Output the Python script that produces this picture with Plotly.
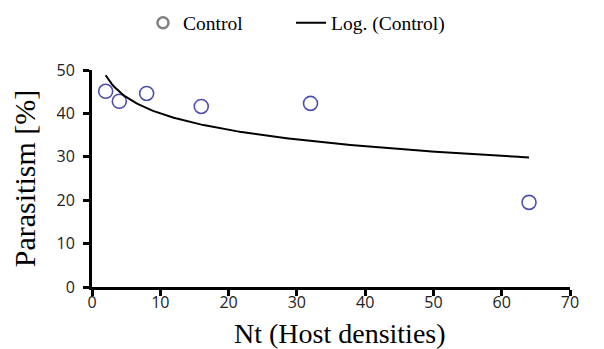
import numpy as np
import plotly.graph_objects as go

nt = [2, 4, 8, 16, 32, 64]
parasitism = [45.1, 42.8, 44.6, 41.6, 42.3, 19.5]
x_ticks = [0, 10, 20, 30, 40, 50, 60, 70]
y_ticks = [0, 10, 20, 30, 40, 50]

# logarithmic trendline fitted to the data (like Excel's "Log." trendline)
b, a = np.polyfit(np.log(nt), parasitism, 1)
xf = np.linspace(min(nt), max(nt), 200)
yf = a + b * np.log(xf)

W, H = 596, 341
leg_font = dict(family="Liberation Serif", size=19.5, color="black")

fig = go.Figure()
fig.add_trace(go.Scatter(x=nt, y=parasitism, mode="markers", showlegend=False, cliponaxis=False,
                         marker=dict(symbol="circle-open", size=14, color="#4e4eb0",
                                     line=dict(width=1.6, color="#4e4eb0"))))
fig.add_trace(go.Scatter(x=[None], y=[None], mode="markers", name="Control", legend="legend",
                         marker=dict(symbol="circle-open", size=11, color="#808080",
                                     line=dict(width=2.5, color="#808080"))))
fig.add_trace(go.Scatter(x=xf, y=yf, mode="lines", name="Log. (Control)", legend="legend2",
                         line=dict(color="black", width=2)))

fig.update_layout(
    width=W, height=H, plot_bgcolor="white", paper_bgcolor="white",
    margin=dict(l=84, r=34, t=62, b=62, autoexpand=False),
    legend=dict(orientation="h", xref="container", yref="container",
                x=135 / W, xanchor="left", y=1 - 15 / H, yanchor="middle", font=leg_font),
    legend2=dict(orientation="h", xref="container", yref="container",
                 x=283 / W, xanchor="left", y=1 - 15 / H, yanchor="middle", font=leg_font),
    xaxis=dict(range=[0, 70], tickvals=x_ticks, showline=True, linewidth=3, linecolor="black",
               ticks="outside", ticklen=6, tickwidth=3, tickcolor="black", showgrid=False, zeroline=False,
               automargin=False, ticklabelstandoff=-7,
               tickfont=dict(family="Open Sans", size=16, color="#222")),
    yaxis=dict(range=[0, 50], tickvals=y_ticks, showline=True, linewidth=3, linecolor="black",
               ticks="outside", ticklen=6, tickwidth=3, tickcolor="black", showgrid=False, zeroline=False,
               automargin=False, ticklabelstandoff=5,
               tickfont=dict(family="Open Sans", size=16, color="#222"),
               title=dict(text="Parasitism [%]", font=dict(family="Liberation Serif", size=30, color="black"),
                          standoff=14)),
    annotations=[dict(text="Nt (Host densities)", xref="paper", yref="paper", x=0.5, y=0,
                      xanchor="center", yanchor="middle", yshift=-46, xshift=9, showarrow=False,
                      font=dict(family="Liberation Serif", size=28, color="black"))],
)
fig.write_html("out.html")
